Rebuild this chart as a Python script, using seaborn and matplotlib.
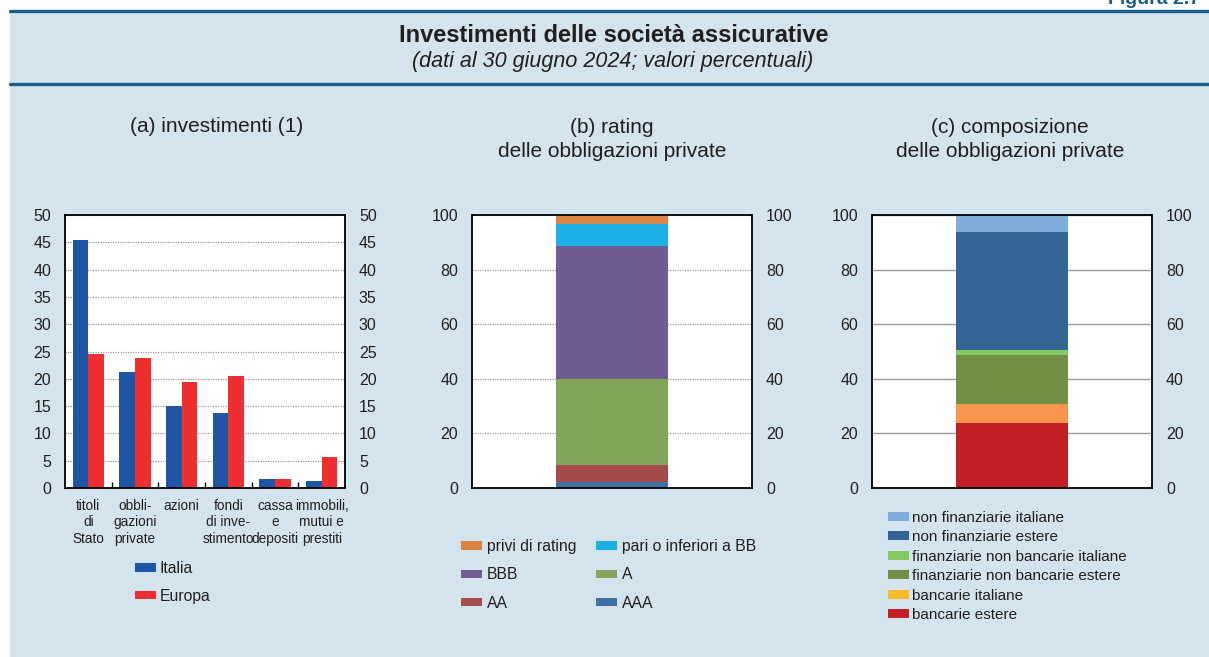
import numpy as np
import pandas as pd
import matplotlib
matplotlib.use("Agg")
import matplotlib.pyplot as plt
from matplotlib.patches import Rectangle, Patch
from matplotlib.lines import Line2D
import seaborn as sns

# ---------------- data ----------------
cat_a = ["titoli\ndi\nStato", "obbli-\ngazioni\nprivate", "azioni",
         "fondi\ndi inve-\nstimento", "cassa\ne\ndepositi", "immobili,\nmutui e\nprestiti"]
italia = [45.5, 21.3, 15.0, 13.7, 1.7, 1.3]
europa = [24.5, 23.8, 19.5, 20.5, 1.6, 5.6]

rating_labels = ["AAA", "AA", "A", "BBB", "pari o inferiori a BB", "privi di rating"]
rating_values = [2.3, 6.3, 31.2, 49.0, 7.8, 3.4]

comp_labels = ["bancarie estere", "bancarie italiane", "finanziarie non bancarie estere",
               "finanziarie non bancarie italiane", "non finanziarie estere",
               "non finanziarie italiane"]
comp_values = [23.8, 7.0, 18.0, 1.8, 43.3, 6.1]

# ---------------- style ----------------
sns.set_theme(style="white")
plt.rcParams["font.family"] = ["Liberation Sans", "DejaVu Sans"]
plt.rcParams["patch.edgecolor"] = "none"
TXT = "#231f20"
BG = "#d3e4ee"
LINE = "#1b5e84"
col_it, col_eu = "#1f55a5", "#ee2e2f"
rating_colors = {"AAA": "#3e70a4", "AA": "#a64b4b", "A": "#83a65a", "BBB": "#6e5c93",
                 "pari o inferiori a BB": "#1cb0e4", "privi di rating": "#da8444"}
comp_colors = {"bancarie estere": "#c21f26", "bancarie italiane": "#f6954b",
               "finanziarie non bancarie estere": "#718f45",
               "finanziarie non bancarie italiane": "#84c862",
               "non finanziarie estere": "#346494", "non finanziarie italiane": "#80aedc"}
comp_legend_colors = dict(comp_colors)
comp_legend_colors["bancarie italiane"] = "#fbba26"

W, H = 1209, 657
fig = plt.figure(figsize=(W / 100, H / 100), dpi=100, facecolor="white")


def fx(px):
    return px / W


def fy(py):
    return 1 - py / H


# background panel and header lines
fig.patches.append(Rectangle((fx(10), 0), 1 - fx(10), fy(11), transform=fig.transFigure,
                             facecolor=BG, edgecolor="none", zorder=-10))
for yy in (11, 84):
    fig.add_artist(Line2D([fx(10), 1], [fy(yy), fy(yy)], transform=fig.transFigure,
                          color=LINE, lw=2.4, zorder=-5))
fig.text(fx(1108), fy(4), "Figura 2.7", ha="left", va="baseline", fontsize=14,
         fontweight="bold", color=LINE)
fig.text(fx(614), fy(36), "Investimenti delle società assicurative", ha="center", va="center",
         fontsize=17, fontweight="bold", color=TXT)
fig.text(fx(613), fy(62), "(dati al 30 giugno 2024; valori percentuali)", ha="center",
         va="center", fontsize=15.5, style="italic", color=TXT)

# panel titles
fig.text(fx(217), fy(127), "(a) investimenti (1)", ha="center", va="center", fontsize=15, color=TXT)
fig.text(fx(612), fy(139.5), "(b) rating\ndelle obbligazioni private", ha="center", va="center",
         fontsize=15, color=TXT, linespacing=1.32)
fig.text(fx(1010), fy(139.5), "(c) composizione\ndelle obbligazioni private", ha="center",
         va="center", fontsize=15, color=TXT, linespacing=1.32)


def make_ax(left, right, top=215, bottom=488):
    ax = fig.add_axes([fx(left), fy(bottom), fx(right - left), (bottom - top) / H])
    ax.set_facecolor("white")
    for s in ax.spines.values():
        s.set_visible(True)
        s.set_color("black")
        s.set_linewidth(1.3)
    ax.set_axisbelow(True)
    return ax


def style_y(ax):
    ax.tick_params(axis="y", left=False, right=False, labelleft=True, labelright=True,
                   labelsize=11.5, labelcolor=TXT, length=0, pad=10)


# ---------------- (a) ----------------
ax1 = make_ax(65, 345)
df_a = pd.DataFrame({"cat": cat_a * 2, "area": ["Italia"] * 6 + ["Europa"] * 6,
                     "val": italia + europa})
sns.barplot(data=df_a, x="cat", y="val", hue="area", palette={"Italia": col_it, "Europa": col_eu},
            width=0.67, saturation=1, ax=ax1, legend=False, errorbar=None, linewidth=0)
ax1.set_xlim(-0.5, 5.5)
ax1.set_ylim(0, 50)
ax1.set_yticks(np.arange(0, 51, 5))
ax1.yaxis.grid(True, color="#9a9a9a", linestyle=(0, (1, 1)), linewidth=0.9)
ax1.set_xticks(range(6))
ax1.set_xticklabels(cat_a, fontsize=9.8, linespacing=1.2, color=TXT)
ax1.set_xticks(np.arange(0.5, 5, 1), minor=True)
ax1.tick_params(axis="x", which="major", length=0, pad=8)
ax1.tick_params(axis="x", which="minor", bottom=True, direction="in", length=4, width=1, color="black")
ax1.set_xlabel("")
ax1.set_ylabel("")
style_y(ax1)
h1 = [Patch(facecolor=col_it, edgecolor="none", label="Italia"),
      Patch(facecolor=col_eu, edgecolor="none", label="Europa")]
fig.legend(handles=h1, loc="upper left", bbox_to_anchor=(fx(121), fy(547)), frameon=False,
           fontsize=11.3, handlelength=1.35, handleheight=0.45, handletextpad=0.2,
           labelspacing=0.8, labelcolor=TXT)

# ---------------- (b) ----------------
ax2 = make_ax(472, 752)
cum_b = np.cumsum(rating_values)
for lab, top in reversed(list(zip(rating_labels, cum_b))):
    sns.barplot(x=[""], y=[top], color=rating_colors[lab], width=0.807, saturation=1,
                ax=ax2, errorbar=None, linewidth=0)
ax2.set_xlim(-1, 1)
ax2.set_ylim(0, 100)
ax2.set_yticks(np.arange(0, 101, 20))
ax2.yaxis.grid(True, color="#9a9a9a", linestyle=(0, (1, 1)), linewidth=0.9)
ax2.set_xticks([])
ax2.set_xlabel("")
ax2.set_ylabel("")
style_y(ax2)
order_b = ["privi di rating", "BBB", "AA", "pari o inferiori a BB", "A", "AAA"]
h2 = [Patch(facecolor=rating_colors[l], edgecolor="none", label=l) for l in order_b]
fig.legend(handles=h2, loc="upper left", bbox_to_anchor=(fx(447), fy(525)), ncol=2,
           frameon=False, fontsize=11.3, handlelength=1.35, handleheight=0.45,
           handletextpad=0.3, labelspacing=0.85, columnspacing=1.25, labelcolor=TXT)

# ---------------- (c) ----------------
ax3 = make_ax(872, 1152)
cum_c = np.cumsum(comp_values)
for lab, top in reversed(list(zip(comp_labels, cum_c))):
    sns.barplot(x=[""], y=[top], color=comp_colors[lab], width=0.80, saturation=1,
                ax=ax3, errorbar=None, linewidth=0)
ax3.set_xlim(-1, 1)
ax3.set_ylim(0, 100)
ax3.set_yticks(np.arange(0, 101, 20))
ax3.yaxis.grid(True, color="#9a9a9a", linestyle="-", linewidth=1.0)
ax3.set_xticks([])
ax3.set_xlabel("")
ax3.set_ylabel("")
style_y(ax3)
h3 = [Patch(facecolor=comp_legend_colors[l], edgecolor="none", label=l) for l in reversed(comp_labels)]
fig.legend(handles=h3, loc="upper left", bbox_to_anchor=(fx(874), fy(497)), frameon=False,
           fontsize=11, handlelength=1.4, handleheight=0.5, handletextpad=0.2,
           labelspacing=0.36, labelcolor=TXT)

fig.savefig("out.png", dpi=100, facecolor="white")
